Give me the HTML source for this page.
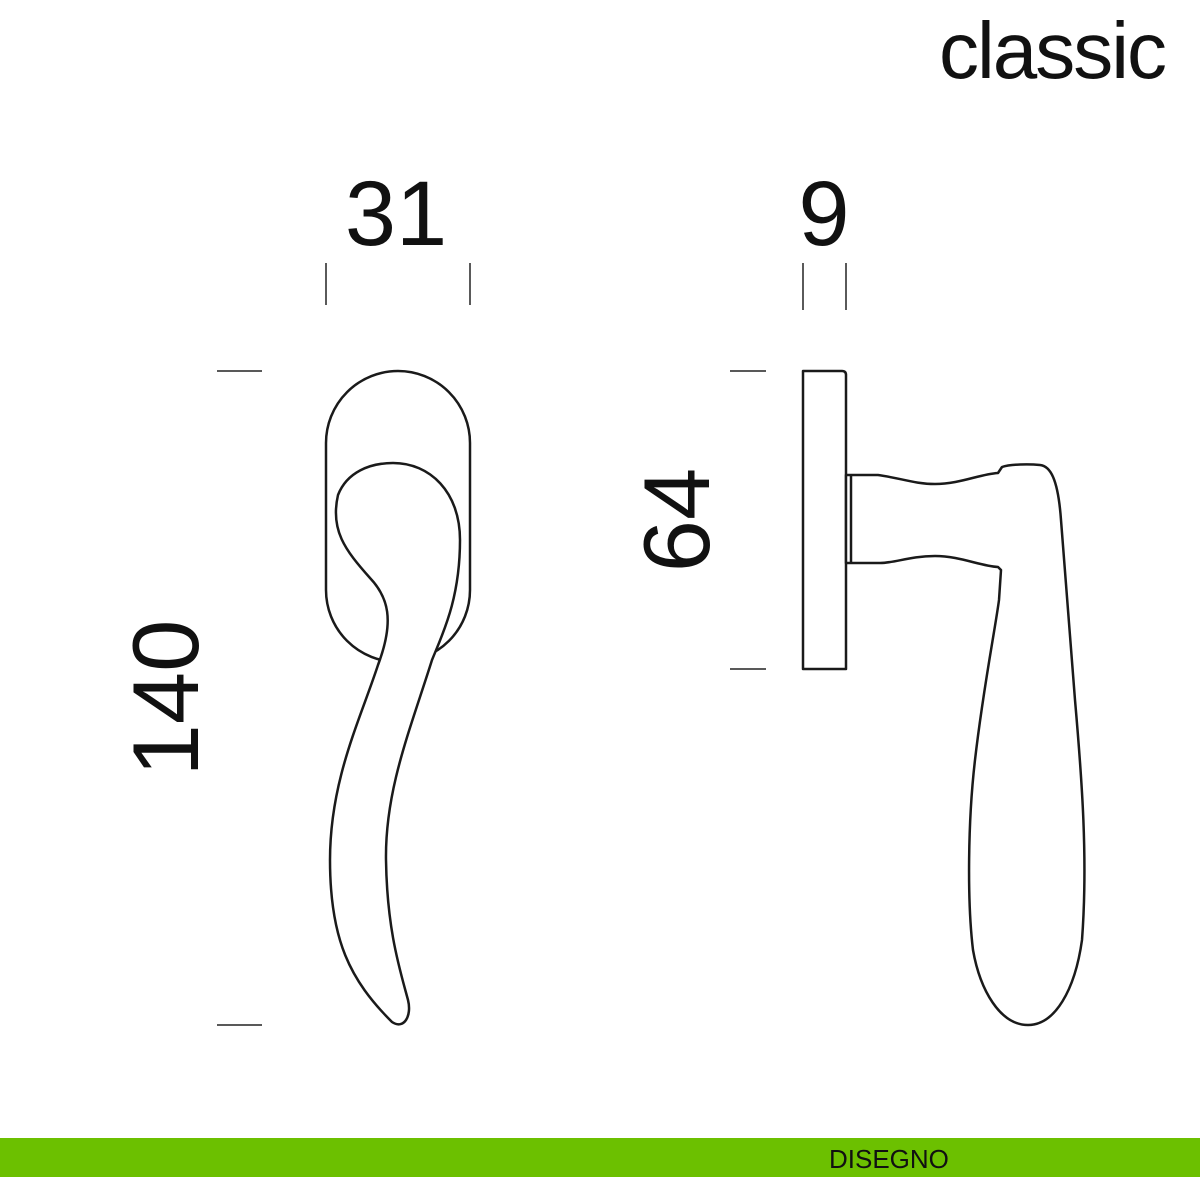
<!DOCTYPE html>
<html><head><style>
body{margin:0;background:#fff;}
svg{display:block}
text{font-family:"Liberation Sans",Arial,sans-serif;fill:#111}
</style></head><body>
<svg width="1200" height="1200" viewBox="0 0 1200 1200" xmlns="http://www.w3.org/2000/svg">
<text x="1165" y="78" font-size="80" letter-spacing="-2" text-anchor="end">classic</text>
<text x="396" y="245" font-size="92" text-anchor="middle">31</text>
<text x="824" y="245" font-size="92" text-anchor="middle">9</text>
<text transform="translate(198,698) rotate(-90)" font-size="94" text-anchor="middle">140</text>
<text transform="translate(709,520) rotate(-90)" font-size="94" text-anchor="middle">64</text>
<g stroke="#222" stroke-width="1.5">
<line x1="326" y1="263" x2="326" y2="305"/><line x1="470" y1="263" x2="470" y2="305"/>
<line x1="803" y1="263" x2="803" y2="310"/><line x1="846" y1="263" x2="846" y2="310"/>
<line x1="217" y1="371" x2="262" y2="371"/><line x1="217" y1="1025" x2="262" y2="1025"/>
<line x1="730" y1="371" x2="766" y2="371"/><line x1="730" y1="669" x2="766" y2="669"/>
</g>
<g fill="#fff" stroke="#1a1a1a" stroke-width="2.5" stroke-linejoin="round">
<rect x="326" y="371" width="144" height="291" rx="72" ry="72"/>
<path d="M378,665 C395,620 388,597 370,578 C345,550 330,530 338,495 C347,472 370,463 393,463 C430,463 460,492 460,540 C460,600 442,635 432,660 C410,730 385,790 386,860 C387,930 400,970 408,1000 C412,1016 404,1030 392,1022 C350,980 330,940 330,860 C330,780 360,720 378,665 Z"/>
<path d="M803,371 L842,371 Q846,371 846,375 L846,669 L803,669 Z"/>
<path d="M846,475 L878,475 C900,478 915,484 935,484 C960,484 980,474 998,473 L1002,467 C1010,464 1030,464 1040,465 C1050,466 1058,478 1061,520 C1066,580 1070,640 1075,700 C1082,780 1088,860 1082,940 C1075,990 1055,1025 1028,1025 C1000,1025 980,990 973,950 C967,900 968,820 975,760 C983,690 995,630 999,600 L1001,570 L998,567 C980,566 960,556 935,556 C910,556 895,563 880,563 L846,563 Z"/>
<line x1="851" y1="476" x2="851" y2="562"/>
</g>
<rect x="0" y="1138" width="1200" height="39" fill="#6cc000"/>
<text x="829" y="1168" font-size="26">DISEGNO</text>
</svg>
</body></html>
